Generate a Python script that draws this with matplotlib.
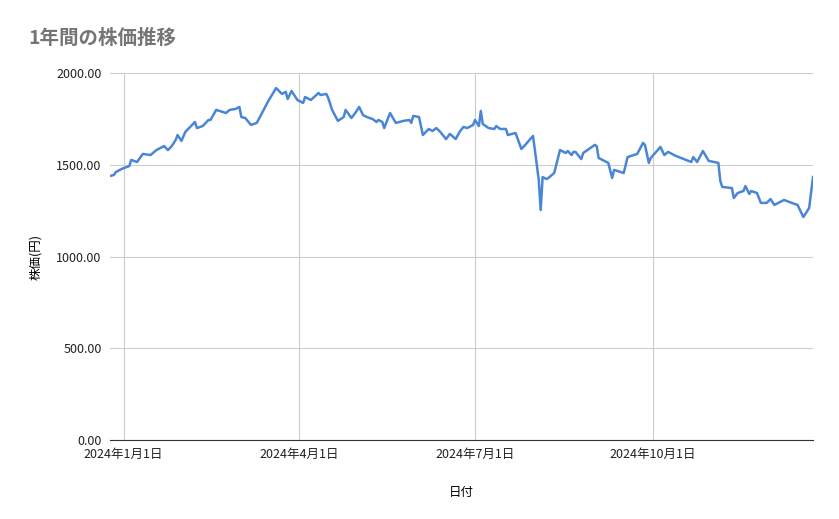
import matplotlib
matplotlib.use("Agg")
import matplotlib.pyplot as plt
import datetime as dt

plt.rcParams['font.family'] = ['Noto Sans CJK JP', 'DejaVu Sans']

# days offset from 2024-01-01
day_offsets = [-7,-5,-4,-1,3,4,7,10,14,17,19,21,23,25,27,28,30,32,35,37,38,41,44,45,48,53,55,58,60,61,63,66,69,72,75,79,82,84,85,87,90,93,94,97,101,102,105,106,108,111,114,115,118,120,122,124,126,129,131,132,134,135,138,141,145,148,149,150,153,155,156,158,160,162,164,167,169,172,174,176,178,181,182,184,185,186,189,192,193,195,198,199,203,206,208,212,213,215,216,217,219,220,223,226,227,229,230,232,233,234,237,238,244,245,246,251,253,254,259,261,266,269,270,272,273,278,280,282,286,294,295,297,300,303,308,309,310,315,316,318,321,322,324,325,328,330,333,335,337,342,346,349,352,355,357]
prices = [1439,1444,1460,1477,1493,1526,1515,1559,1553,1580,1591,1602,1580,1602,1635,1662,1630,1679,1711,1733,1700,1711,1744,1744,1799,1782,1799,1804,1815,1760,1755,1717,1728,1788,1848,1918,1886,1897,1858,1902,1853,1837,1869,1853,1891,1880,1886,1864,1799,1739,1760,1799,1755,1782,1815,1771,1760,1749,1733,1744,1733,1700,1782,1728,1739,1744,1728,1766,1760,1662,1673,1695,1684,1700,1679,1640,1668,1640,1679,1706,1700,1717,1744,1711,1793,1722,1700,1695,1711,1695,1695,1662,1673,1586,1608,1657,1580,1417,1253,1433,1422,1428,1455,1580,1575,1564,1575,1553,1570,1570,1531,1564,1608,1602,1537,1510,1428,1472,1455,1542,1559,1619,1608,1510,1537,1597,1553,1570,1548,1515,1542,1515,1575,1521,1510,1412,1379,1373,1319,1346,1357,1384,1341,1357,1346,1292,1292,1313,1281,1308,1292,1281,1215,1264,1433]
tick_dates = ["2024-01-01", "2024-04-01", "2024-07-01", "2024-10-01"]
tick_labels = ["2024年1月1日", "2024年4月1日", "2024年7月1日", "2024年10月1日"]
y_ticks = [0, 500, 1000, 1500, 2000]

base = dt.date(2024, 1, 1)
dates = [base + dt.timedelta(days=d) for d in day_offsets]
tdates = [dt.date.fromisoformat(s) for s in tick_dates]

fig = plt.figure(figsize=(8.39, 5.19), dpi=100)
ax = fig.add_axes([110/839, 1-440/519, 703/839, 367/519])
ax.plot(dates, prices, color='#4a86d8', lw=1.8, zorder=3)
ax.set_xlim(base + dt.timedelta(days=-7), base + dt.timedelta(days=357))
ax.set_ylim(0, 2000)
ax.set_yticks(y_ticks)
ax.set_yticklabels([f"{v:.2f}" for v in y_ticks])
ax.set_xticks(tdates)
ax.set_xticklabels(tick_labels)
ax.grid(True, color='#cccccc', lw=0.8)
for s in ['top', 'right', 'left']:
    ax.spines[s].set_visible(False)
ax.spines['bottom'].set_color('#333333')
ax.tick_params(length=0, labelsize=9, colors='#222222', pad=6)
ax.set_ylabel("株価(円)", fontsize=9, labelpad=10)
ax.set_xlabel("日付", fontsize=9, labelpad=18)
fig.text(28/839, 1-38/519, "1年間の株価推移", fontsize=14, color='#757575', va='center', ha='left', fontweight='bold')
fig.savefig("out.png", dpi=100)
